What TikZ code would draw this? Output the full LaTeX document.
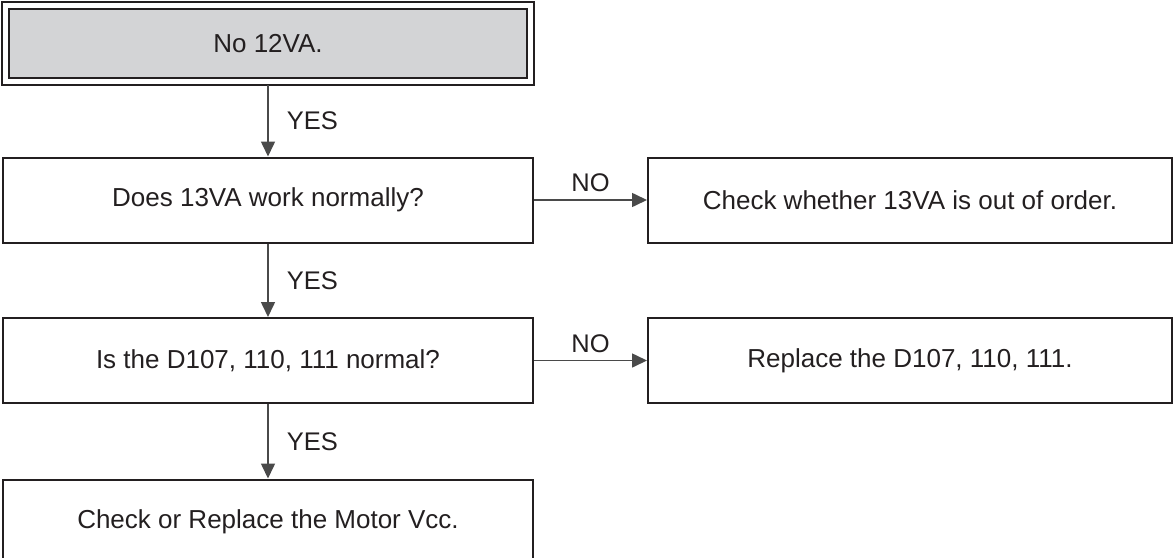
\documentclass[tikz,border=0pt]{standalone}
\usepackage{fontspec}
\setmainfont{Liberation Sans}
\usetikzlibrary{arrows.meta}
\definecolor{ink}{HTML}{231F20}
\definecolor{wire}{HTML}{4A4A4A}
\definecolor{shade}{HTML}{D3D4D6}
\tikzset{
  stepbox/.style={draw=ink, line width=2pt, minimum width=530pt, minimum height=85pt,
    inner sep=0pt, text=ink, font=\fontsize{26}{31}\selectfont},
  flow/.style={draw=wire, line width=1.6pt, -{Triangle[length=15pt,width=14pt]}},
  tag/.style={text=ink, font=\fontsize{25.5}{30}\selectfont, inner sep=0pt}
}
\begin{document}
\begin{tikzpicture}[x=1pt,y=-1pt]
\useasboundingbox (0,0) rectangle (1175,557);
\begin{scope}
\clip (0,0) rectangle (1175,557);
% start box with double frame
\node[stepbox, fill=shade, minimum width=518pt, minimum height=69pt] (start) at (268,43.5) {No 12VA.};
\draw[ink, line width=2pt] ([shift={(-6,-6)}]start.north west) rectangle ([shift={(6,6)}]start.south east);
% main column
\node[stepbox] (q1) at (268,200) {Does 13VA work normally?};
\node[stepbox] (q2) at (268,360.5) {Is the D107, 110, 111 normal?};
\node[stepbox] (fin) at (268,522) {Check or Replace the Motor Vcc.};
% actions on the right
\node[stepbox, minimum width=524pt] (a1) at (910,200) {Check whether 13VA is out of order.};
\node[stepbox, minimum width=524pt] (a2) at (910,360.5) {Replace the D107, 110, 111.};
\end{scope}
% connectors
\draw[flow] ([yshift=-6pt]start.south) -- (q1.north) node[tag, midway, anchor=west, xshift=18pt] {YES};
\draw[flow] (q1.south) -- (q2.north) node[tag, midway, anchor=west, xshift=18pt] {YES};
\draw[flow] (q2.south) -- (fin.north) node[tag, midway, anchor=west, xshift=18pt] {YES};
\draw[flow] (q1.east) -- (a1.west) node[tag, midway, anchor=south, yshift=7pt] {NO};
\draw[flow] (q2.east) -- (a2.west) node[tag, midway, anchor=south, yshift=7pt] {NO};
\end{tikzpicture}
\end{document}
